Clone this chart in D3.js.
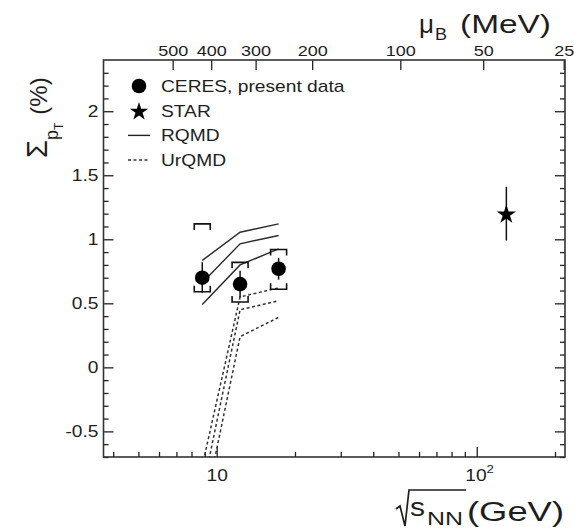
<!DOCTYPE html>
<html><head><meta charset="utf-8">
<script src="https://cdn.jsdelivr.net/npm/d3@7"></script>
<style>
body{margin:0;background:#fff}
svg{display:block}
text{font-family:"Liberation Sans",Arial,Helvetica,sans-serif;fill:#1e1e1e}
</style>
</head><body><svg id="chart" width="574" height="529"></svg>
<script>
// CERES Sigma_pT at 40, 80, 158 AGeV (sqrt(s_NN) in GeV), values in %
const energies = [8.8, 12.3, 17.3];
const ceresSigma = [0.70, 0.65, 0.77];
const ceresStat = [0.12, 0.105, 0.085];
const ceresSysHigh = [1.12, 0.82, 0.92];
const ceresSysLow = [0.59, 0.51, 0.61];
// STAR at RHIC
const starEnergy = [130];
const starSigma = [1.20];
const starStat = [0.21];
// model curves at the three SPS energies
const rqmdUpper = [0.835, 1.055, 1.12];
const rqmdMiddle = [0.66, 0.965, 1.03];
const rqmdLower = [0.49, 0.80, 0.925];
const urqmdUpper = [-0.77, 0.55, 0.62];
const urqmdMiddle = [-0.97, 0.45, 0.52];
const urqmdLower = [-1.18, 0.24, 0.39];
// axes
const yMajorTicks = [-0.5, 0, 0.5, 1, 1.5, 2];
const yTickLabels = ["-0.5", "0", "0.5", "1", "1.5", "2"];
const xMajorTicks = [10, 100];
const xMinorTicks = [4, 5, 6, 7, 8, 9, 20, 30, 40, 50, 60, 70, 80, 90, 200];
const muBTicks = [500, 400, 300, 200, 100, 50, 25];
const legendLabels = ["CERES, present data", "STAR", "RQMD", "UrQMD"];

// baryon chemical potential (MeV) <-> sqrt(s_NN) (GeV)
const muA = 1298, muB = 0.2357;
const sqrtSFromMu = mu => (muA / mu - 1) / muB;

const L = 103.5, R = 565, T = 60, B = 457;
const SX = 1.2; // horizontal glyph stretch of the lettering

const svg = d3.select("#chart");
const x = d3.scaleLog().domain([3.67, 218.5]).range([L, R]);
const y = d3.scaleLinear().domain([-0.7, 2.4]).range([B, T]);

svg.append("defs").append("clipPath").attr("id", "plotArea")
  .append("rect").attr("x", L).attr("y", T).attr("width", R - L).attr("height", B - T);

const ink = "#222";

function tidy(g) {
  g.select(".domain").remove();
  g.selectAll(".tick line").attr("stroke", ink).attr("stroke-width", 1.3);
}
function stretchLabels(g) {
  g.selectAll("text").attr("transform", `scale(${SX},1)`)
    .attr("x", function () { return +d3.select(this).attr("x") / SX; });
}

const yMinor = d3.range(-7, 24).map(v => v / 10).filter(v => !yMajorTicks.some(m => Math.abs(m - v) < 1e-6));

// left axis
svg.append("g").attr("transform", `translate(${L},0)`)
  .call(d3.axisLeft(y).tickValues(yMinor).tickSize(-5).tickFormat("")).call(tidy);
const gl = svg.append("g").attr("transform", `translate(${L},0)`)
  .call(d3.axisLeft(y).tickValues(yMajorTicks).tickSize(-10).tickPadding(5)
    .tickFormat((d, i) => yTickLabels[i])).call(tidy);
gl.selectAll("text").style("font-size", "16px").style("fill", "#1e1e1e");
stretchLabels(gl);

// right axis
svg.append("g").attr("transform", `translate(${R},0)`)
  .call(d3.axisRight(y).tickValues(yMinor).tickSize(-5).tickFormat("")).call(tidy);
svg.append("g").attr("transform", `translate(${R},0)`)
  .call(d3.axisRight(y).tickValues(yMajorTicks).tickSize(-10).tickFormat("")).call(tidy);

// bottom axis
svg.append("g").attr("transform", `translate(0,${B})`)
  .call(d3.axisBottom(x).tickValues(xMinorTicks).tickSize(-5).tickFormat("")).call(tidy);
const gb = svg.append("g").attr("transform", `translate(0,${B})`)
  .call(d3.axisBottom(x).tickValues(xMajorTicks).tickSize(-10).tickFormat("")).call(tidy);
gb.selectAll(".tick").each(function (d) {
  const t = d3.select(this).append("text").attr("y", 24).style("font-size", "16px")
    .attr("text-anchor", "middle").attr("transform", `scale(${SX},1)`);
  t.append("tspan").text("10");
  if (d === 100) {
    t.attr("x", 2);
    t.append("tspan").attr("dy", -8).style("font-size", "11px").text("2");
  }
});

// top axis: mu_B
const gt = svg.append("g").attr("transform", `translate(0,${T})`)
  .call(d3.axisTop(x).tickValues(muBTicks.map(sqrtSFromMu)).tickSize(-10).tickPadding(4)
    .tickFormat((d, i) => muBTicks[i])).call(tidy);
gt.selectAll("text").style("font-size", "15px").style("fill", "#1e1e1e");
stretchLabels(gt);

// frame
svg.append("rect").attr("x", L).attr("y", T).attr("width", R - L).attr("height", B - T)
  .attr("fill", "none").attr("stroke", "#333").attr("stroke-width", 1.6);

const plot = svg.append("g").attr("clip-path", "url(#plotArea)");
const line = d3.line().x((d, i) => x(energies[i])).y(d => y(d));

// RQMD (solid)
[rqmdUpper, rqmdMiddle, rqmdLower].forEach(s => {
  plot.append("path").attr("d", line(s)).attr("fill", "none")
    .attr("stroke", "#2a2a2a").attr("stroke-width", 1.4);
});
// UrQMD (dashed)
[urqmdUpper, urqmdMiddle, urqmdLower].forEach(s => {
  plot.append("path").attr("d", line(s)).attr("fill", "none")
    .attr("stroke", "#333").attr("stroke-width", 1.5).attr("stroke-dasharray", "3,2.5");
});

// CERES systematic brackets, statistical bars and points
const bw = 8, arm = 6;
energies.forEach((e, i) => {
  const cx = x(e);
  const yh = y(ceresSysHigh[i]), yl = y(ceresSysLow[i]);
  plot.append("path").attr("fill", "none").attr("stroke", "#111").attr("stroke-width", 1.6)
    .attr("d", `M${cx - bw},${yh + arm}V${yh}H${cx + bw}V${yh + arm}`);
  plot.append("path").attr("fill", "none").attr("stroke", "#111").attr("stroke-width", 1.6)
    .attr("d", `M${cx - bw},${yl - arm}V${yl}H${cx + bw}V${yl - arm}`);
  plot.append("line").attr("x1", cx).attr("x2", cx)
    .attr("y1", y(ceresSigma[i] + ceresStat[i])).attr("y2", y(ceresSigma[i] - ceresStat[i]))
    .attr("stroke", "#111").attr("stroke-width", 1.5);
  plot.append("circle").attr("cx", cx).attr("cy", y(ceresSigma[i])).attr("r", 7.3).attr("fill", "#000");
});

// STAR
const starSym = d3.symbol().type(d3.symbolStar);
starEnergy.forEach((e, i) => {
  plot.append("line").attr("x1", x(e)).attr("x2", x(e))
    .attr("y1", y(starSigma[i] + starStat[i])).attr("y2", y(starSigma[i] - starStat[i]))
    .attr("stroke", "#111").attr("stroke-width", 1.5);
  plot.append("path").attr("d", starSym.size(115)())
    .attr("transform", `translate(${x(e)},${y(starSigma[i]) + 1})`).attr("fill", "#000");
});

// legend
const lx = 139, ly0 = 86, dy = 24.7;
const lg = svg.append("g");
lg.append("circle").attr("cx", lx).attr("cy", ly0).attr("r", 7.3).attr("fill", "#000");
lg.append("path").attr("d", starSym.size(105)()).attr("transform", `translate(${lx},${ly0 + dy + 1})`).attr("fill", "#000");
lg.append("line").attr("x1", lx - 11).attr("x2", lx + 11).attr("y1", ly0 + 2 * dy).attr("y2", ly0 + 2 * dy)
  .attr("stroke", "#222").attr("stroke-width", 1.4);
lg.append("line").attr("x1", lx - 11).attr("x2", lx + 11).attr("y1", ly0 + 3 * dy).attr("y2", ly0 + 3 * dy)
  .attr("stroke", "#333").attr("stroke-width", 1.5).attr("stroke-dasharray", "3,2.5");
legendLabels.forEach((t, i) => {
  lg.append("text").attr("transform", `translate(161,${ly0 + i * dy + 6}) scale(${SX},1)`)
    .style("font-size", "16px").text(t);
});

// y title: Sigma_{p_T} (%)
const yt = svg.append("text").attr("transform", "translate(47,158) rotate(-90)").style("font-size", "24px");
yt.append("tspan").style("font-size", "29px").text("Σ");
yt.append("tspan").attr("dy", 11).style("font-size", "18px").text("p");
yt.append("tspan").attr("dy", 5).style("font-size", "12px").text("T");
yt.append("tspan").attr("dy", -16).attr("dx", 8).text("(%)");

// x title: sqrt(s_NN) (GeV)
svg.append("path").attr("fill", "none").attr("stroke", "#1e1e1e").attr("stroke-width", 1.7)
  .attr("d", "M396,509L400,506L405,526L409,490H466");
svg.append("text").attr("x", 410).attr("y", 516).style("font-size", "26px")
  .attr("textLength", 15).attr("lengthAdjust", "spacingAndGlyphs").text("s");
svg.append("text").attr("x", 427).attr("y", 525).style("font-size", "18px")
  .attr("textLength", 36).attr("lengthAdjust", "spacingAndGlyphs").text("NN");
svg.append("text").attr("x", 467).attr("y", 521).style("font-size", "27px")
  .attr("textLength", 97).attr("lengthAdjust", "spacingAndGlyphs").text("(GeV)");

// top title: mu_B (MeV)
svg.append("text").attr("x", 419).attr("y", 33).style("font-size", "26px")
  .attr("textLength", 15).attr("lengthAdjust", "spacingAndGlyphs").text("μ");
svg.append("text").attr("x", 435).attr("y", 40).style("font-size", "16px")
  .attr("textLength", 12).attr("lengthAdjust", "spacingAndGlyphs").text("B");
svg.append("text").attr("x", 460).attr("y", 33).style("font-size", "26px")
  .attr("textLength", 91).attr("lengthAdjust", "spacingAndGlyphs").text("(MeV)");
</script>
</body></html>
